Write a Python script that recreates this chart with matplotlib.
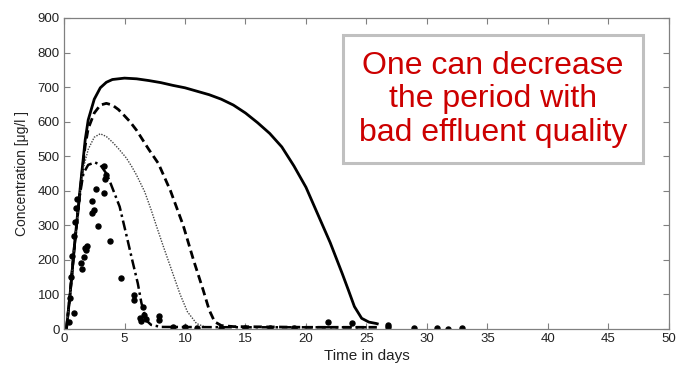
import numpy as np
import matplotlib.pyplot as plt
from matplotlib.patches import Rectangle

plt.rcParams['font.family'] = ['Liberation Sans', 'DejaVu Sans']

# solid curve (longest period)
t_solid = [0.2, 0.5, 0.9, 1.3, 1.75, 2.0, 2.5, 3.0, 3.5, 4.0, 5.0, 6.0, 7.0, 8.0, 9.0,
           10.0, 11.0, 12.0, 13.0, 14.0, 15.0, 16.0, 17.0, 18.0, 19.0, 20.0, 21.0,
           22.0, 22.5, 23.0, 23.5, 24.0, 24.6, 25.2, 25.8, 26.0]
c_solid = [0, 100, 255, 395, 547, 605, 665, 698, 714, 722, 726, 724, 719, 713, 705,
           698, 688, 678, 665, 648, 625, 597, 566, 527, 472, 410, 330,
           250, 205, 160, 113, 65, 31, 20, 16, 14]

# dashed curve
t_dash = [0.2, 0.5, 0.9, 1.3, 1.75, 2.0, 2.5, 3.0, 3.5, 4.0, 4.5, 5.0, 5.45, 6.0, 7.0,
          7.8, 8.8, 9.85, 10.7, 11.5, 12.0, 12.45, 13.0, 14.0, 20.0, 26.0]
c_dash = [0, 100, 255, 390, 530, 580, 625, 648, 653, 648, 635, 617, 600, 575, 520,
          479, 400, 300, 200, 113, 55, 21, 10, 7, 5, 5]

# dotted curve
t_dot = [0.2, 0.5, 0.9, 1.3, 1.6, 2.0, 2.5, 3.0, 3.5, 4.0, 4.5, 5.15, 5.6, 6.0, 6.67,
         7.2, 7.64, 8.2, 8.6, 9.6, 10.2, 10.95, 11.5, 12.0]
c_dot = [0, 100, 255, 390, 465, 520, 555, 565, 557, 541, 522, 495, 470, 445, 397,
         345, 298, 240, 200, 100, 50, 16, 8, 5]

# dash-dot curve
t_dd = [0.2, 0.5, 0.9, 1.3, 1.6, 2.0, 2.56, 3.0, 3.5, 3.8, 4.2, 4.6, 5.0, 5.25, 5.6,
        6.1, 6.4, 6.8, 7.2, 8.0, 15.0, 25.0]
c_dd = [0, 100, 250, 385, 450, 475, 482, 475, 450, 426, 390, 354, 295, 258, 205,
        132, 75, 25, 12, 6, 5, 5]

# measured points
t_meas = [0.4, 0.5, 0.6, 0.7, 0.8, 0.85, 0.9, 1.0, 1.1, 1.38, 1.46, 1.65, 1.85, 1.87,
          1.74, 2.31, 2.34, 2.45, 2.62, 2.83, 3.31, 3.31, 3.4, 3.5, 3.8, 4.75, 5.78,
          5.78, 6.28, 6.36, 6.55, 6.6, 6.8, 7.86, 7.86, 9.0, 10.0, 11.0, 13.0, 15.0,
          17.0, 19.0, 21.85, 23.8, 26.8, 26.8, 28.9, 30.8, 31.7, 32.9]
c_meas = [20, 90, 150, 210, 270, 47, 310, 350, 375, 190, 173, 209, 230, 240,
          235, 371, 337, 345, 404, 299, 473, 394, 435, 445, 255, 147, 98,
          85, 31, 22, 63, 40, 30, 38, 26, 5, 5, 4, 4, 3,
          3, 4, 21, 16, 13, 5, 2, 4, 1, 2]

fig = plt.figure(figsize=(6.78, 3.65), dpi=100)
ax = fig.add_axes([0.0944, 0.0986, 0.8923, 0.8521])

ax.plot(t_solid, c_solid, color='black', lw=2.0, solid_capstyle='butt')
ax.plot(t_dash, c_dash, color='black', lw=2.0, dashes=(3, 1.6))
ax.plot(t_dot, c_dot, color='#444444', lw=1.0, linestyle=(0, (1, 1)))
ax.plot(t_dd, c_dd, color='black', lw=1.8, dashes=(4, 1.5, 1, 1.5))
ax.plot(t_meas, c_meas, 'o', color='black', ms=3.6, mec='black')

ax.set_xlim(0, 50)
ax.set_ylim(0, 900)
ax.set_xticks(np.arange(0, 51, 5))
ax.set_yticks(np.arange(0, 901, 100))
ax.tick_params(direction='in', top=True, right=True, length=4, width=0.8,
               color='#808080', labelsize=9.5, labelcolor='#222222', pad=3)
for s in ax.spines.values():
    s.set_color('#808080')
    s.set_linewidth(0.9)

ax.set_xlabel('Time in days', fontsize=11, labelpad=3, color='#222222')
ax.set_ylabel('Concentration [\u03bcg/l ]', fontsize=10, labelpad=6, color='#222222')

# annotation box
ax.add_patch(Rectangle((0.461, 0.534), 0.496, 0.411, transform=ax.transAxes,
                       facecolor='white', edgecolor='#c0c0c0', lw=2.2, zorder=5))
ax.text(0.709, 0.738, 'One can decrease\nthe period with\nbad effluent quality',
        transform=ax.transAxes, ha='center', va='center', fontsize=23,
        color='#cc0000', linespacing=1.17, zorder=6)

fig.savefig('out.png', dpi=100)
